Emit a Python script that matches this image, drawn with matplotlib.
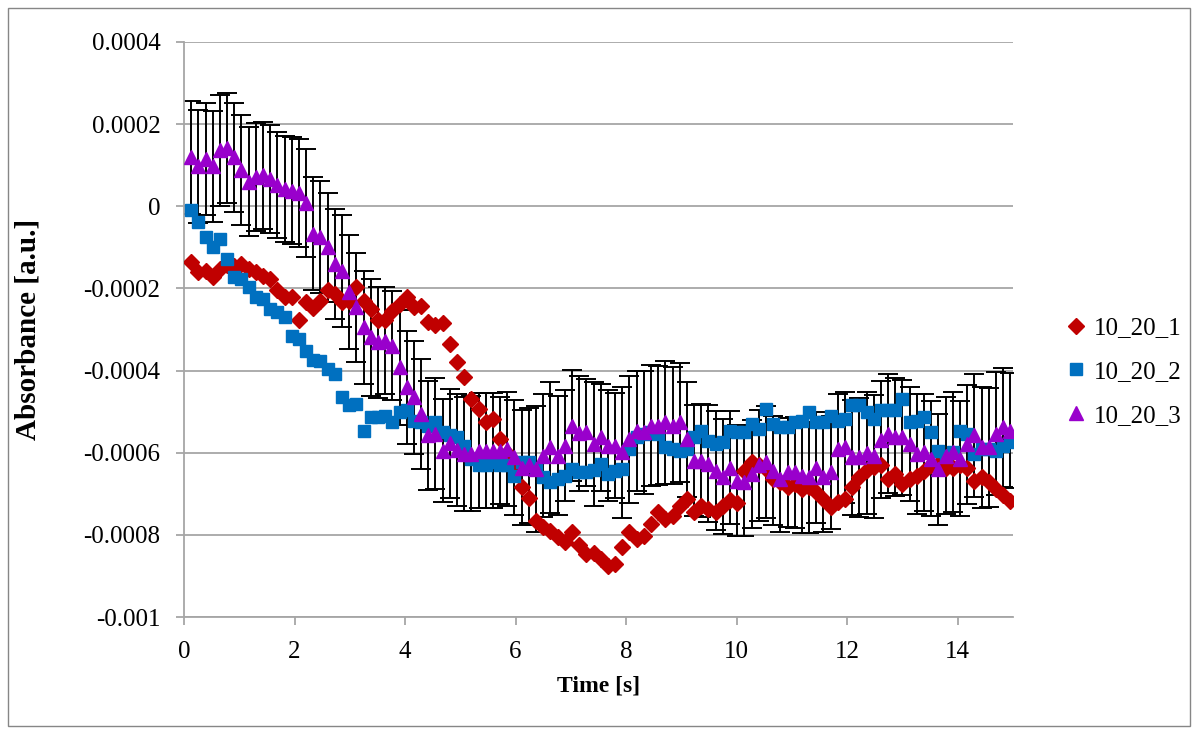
import numpy as np
import matplotlib.pyplot as plt
from matplotlib.patches import Rectangle

plt.rcParams['font.family'] = ['Liberation Serif', 'DejaVu Serif']

# sampling times [s]
time_s = np.round(np.arange(1, 116) * 0.13, 2)

# absorbance readings, in units of 1e-4
abs_1 = [-1.36, -1.61, -1.57, -1.73, -1.53, -1.44, -1.46, -1.40, -1.53, -1.61,
         -1.69, -1.77, -2.05, -2.22, -2.22, -2.78, -2.32, -2.48, -2.30, -2.05,
         -2.14, -2.34, -2.30, -1.97, -2.30, -2.50, -2.78, -2.78, -2.54, -2.38,
         -2.22, -2.46, -2.42, -2.82, -2.90, -2.84, -3.36, -3.80, -4.16, -4.69,
         -4.94, -5.26, -5.19, -5.67, -6.00, -6.36, -6.84, -7.09, -7.65, -7.82,
         -7.90, -8.06, -8.18, -7.94, -8.24, -8.47, -8.43, -8.59, -8.75, -8.71,
         -8.30, -7.94, -8.10, -8.02, -7.74, -7.45, -7.61, -7.53, -7.29, -7.13,
         -7.45, -7.29, -7.37, -7.45, -7.29, -7.15, -7.23, -6.44, -6.23, -6.31,
         -6.40, -6.64, -6.72, -6.84, -6.76, -6.88, -6.84, -6.96, -7.13, -7.33,
         -7.21, -7.13, -6.84, -6.60, -6.42, -6.34, -6.31, -6.64, -6.52, -6.76,
         -6.64, -6.56, -6.44, -6.31, -6.27, -6.36, -6.36, -6.31, -6.36, -6.68,
         -6.60, -6.72, -6.88, -7.04, -7.17]

abs_2 = [-0.10, -0.39, -0.75, -1.00, -0.80, -1.28, -1.73, -1.77, -1.97, -2.22,
         -2.26, -2.50, -2.58, -2.70, -3.15, -3.22, -3.53, -3.74, -3.76, -3.96,
         -4.08, -4.65, -4.85, -4.81, -5.46, -5.14, -5.14, -5.10, -5.26, -5.02,
         -4.97, -5.22, -5.26, -5.34, -5.26, -5.50, -5.58, -5.62, -5.83, -6.15,
         -6.31, -6.31, -6.23, -6.31, -6.31, -6.56, -6.23, -6.23, -6.40, -6.60,
         -6.72, -6.64, -6.56, -6.40, -6.48, -6.48, -6.41, -6.27, -6.52, -6.44,
         -6.40, -5.91, -5.62, -5.54, -5.50, -5.54, -5.87, -5.91, -5.95, -5.91,
         -5.62, -5.46, -5.71, -5.79, -5.73, -5.48, -5.50, -5.49, -5.30, -5.42,
         -4.94, -5.30, -5.38, -5.38, -5.26, -5.22, -5.02, -5.26, -5.26, -5.10,
         -5.22, -5.18, -4.85, -4.85, -5.02, -5.18, -4.97, -4.97, -4.97, -4.69,
         -5.26, -5.22, -5.14, -5.50, -5.95, -6.07, -5.99, -5.46, -5.54, -6.03,
         -5.91, -5.91, -5.95, -5.83, -5.75]

abs_3 = [1.19, 0.97, 1.15, 0.97, 1.36, 1.41, 1.19, 0.88, 0.60, 0.71,
         0.75, 0.67, 0.52, 0.42, 0.38, 0.32, 0.08, -0.67, -0.75, -1.00,
         -1.40, -1.57, -2.09, -2.46, -2.95, -3.19, -3.31, -3.27, -3.39, -3.92,
         -4.41, -4.65, -5.06, -5.58, -5.54, -5.95, -5.77, -5.93, -6.03, -6.03,
         -5.95, -5.95, -5.95, -5.95, -5.91, -6.11, -6.36, -6.31, -6.40, -6.07,
         -5.87, -6.07, -5.83, -5.34, -5.52, -5.50, -5.79, -5.62, -5.83, -5.83,
         -5.99, -5.67, -5.46, -5.50, -5.34, -5.34, -5.26, -5.34, -5.26, -5.67,
         -6.19, -6.19, -6.27, -6.44, -6.58, -6.36, -6.68, -6.72, -6.52, -6.31,
         -6.23, -6.44, -6.64, -6.48, -6.48, -6.56, -6.60, -6.36, -6.60, -6.48,
         -5.91, -5.87, -6.11, -6.11, -6.01, -6.09, -5.68, -5.54, -5.62, -5.62,
         -5.79, -6.03, -5.99, -6.15, -6.40, -6.07, -5.99, -6.15, -5.79, -5.58,
         -5.87, -5.87, -5.54, -5.38, -5.46]

# error bar half-lengths for 10_20_3, units of 1e-4
err_3 = [1.37, 1.37, 1.36, 1.35, 1.35, 1.34, 1.32, 1.34, 1.32, 1.31,
         1.31, 1.31, 1.30, 1.30, 1.30, 1.32, 1.32, 1.38, 1.36, 1.32,
         1.34, 1.36, 1.39, 1.32, 1.38, 1.42, 1.35, 1.31, 1.32, 1.40,
         1.38, 1.38, 1.34, 1.33, 1.35, 1.25, 1.32, 1.36, 1.38, 1.40,
         1.40, 1.40, 1.40, 1.30, 1.39, 1.40, 1.40, 1.40, 1.54, 1.50,
         1.60, 1.45, 1.35, 1.35, 1.40, 1.30, 1.50, 1.30, 1.35, 1.28,
         1.60, 1.55, 1.46, 1.50, 1.48, 1.45, 1.50, 1.42, 1.45, 1.40,
         1.35, 1.38, 1.42, 1.45, 1.40, 1.38, 1.35, 1.30, 1.32, 1.35,
         1.36, 1.33, 1.30, 1.32, 1.35, 1.40, 1.36, 1.34, 1.32, 1.38,
         1.35, 1.36, 1.40, 1.45, 1.48, 1.50, 1.42, 1.45, 1.44, 1.40,
         1.38, 1.45, 1.42, 1.40, 1.35, 1.42, 1.46, 1.40, 1.45, 1.50,
         1.48, 1.44, 1.50, 1.45, 1.40]

labels = ['10_20_1', '10_20_2', '10_20_3']
ytick_vals = [0.0004, 0.0002, 0, -0.0002, -0.0004, -0.0006, -0.0008, -0.001]
ytick_labels = ['0.0004', '0.0002', '0', '-0.0002', '-0.0004', '-0.0006', '-0.0008', '-0.001']
xtick_vals = [0, 2, 4, 6, 8, 10, 12, 14]

scale = 1e-4
y1 = np.array(abs_1) * scale
y2 = np.array(abs_2) * scale
y3 = np.array(abs_3) * scale
e3 = np.array(err_3) * scale

fig = plt.figure(figsize=(11.97, 7.29), dpi=100)
ax = fig.add_axes([0.1537, 0.1536, 0.6926, 0.7888])

grey = '#A6A6A6'

ax.errorbar(time_s, y3, yerr=e3, fmt='none', ecolor='black',
            elinewidth=1.4, capsize=7, capthick=1.4, zorder=2)
ax.plot(time_s, y1, 'D', color='#C00000', ms=8.5, mec='#C00000', label=labels[0], zorder=3)
ax.plot(time_s, y2, 's', color='#0070C0', ms=8, mec='#0070C0', label=labels[1], zorder=4)
ax.plot(time_s, y3, '^', color='#9900CC', ms=10.5, mec='#9900CC', label=labels[2], zorder=5)

ax.set_xlim(0, 15)
ax.set_ylim(-0.001, 0.0004)
ax.set_xticks(xtick_vals)
ax.set_yticks(ytick_vals)
ax.set_yticklabels(ytick_labels)

ax.yaxis.grid(True, color=grey, lw=1.3)
ax.set_axisbelow(True)
for side in ['top', 'right']:
    ax.spines[side].set_visible(False)
for side in ['left', 'bottom']:
    ax.spines[side].set_color(grey)
    ax.spines[side].set_linewidth(1.3)

ax.tick_params(axis='both', direction='out', length=6, width=1.3, color=grey,
               labelsize=18)
ax.tick_params(axis='y', pad=11)
ax.tick_params(axis='x', pad=11)

ax.set_xlabel('Time [s]', fontsize=17, fontweight='bold', labelpad=9)
ax.set_ylabel('Absorbance [a.u.]', fontsize=21, fontweight='bold')
ax.yaxis.set_label_coords(-0.172, 0.5)

fig.legend(loc='center left', bbox_to_anchor=(0.872, 0.49), frameon=False,
           fontsize=18, handlelength=0.8, handletextpad=0.3, labelspacing=0.85)

fig.patches.append(Rectangle((8 / 1197, 0.004), 1182 / 1197, 0.985,
                             transform=fig.transFigure, fill=False,
                             edgecolor='#868686', lw=1))

plt.savefig('out.png', dpi=100)
